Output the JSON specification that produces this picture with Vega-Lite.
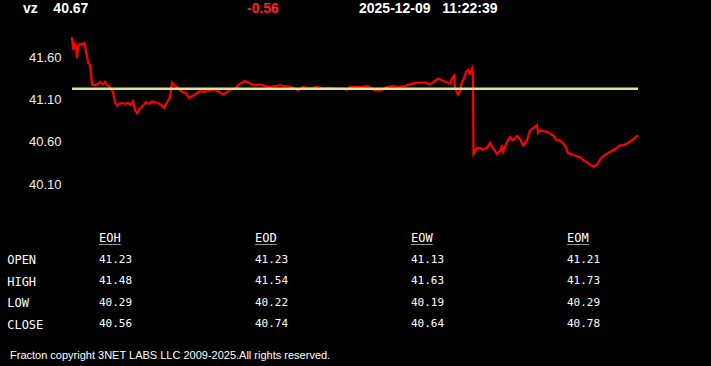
{
  "$schema": "https://vega.github.io/schema/vega-lite/v6.json",
  "background": "black",
  "padding": {"left": 0, "top": 0, "right": 0, "bottom": 14},
  "spacing": 0,
  "config": {"view": {"stroke": null}, "font": "Liberation Sans"},
  "vconcat": [
    {
      "width": 382,
      "height": 18,
      "data": {"values": [
        {"slot": "sym", "label": "vz\u00a0\u00a0\u00a0\u00a040.67", "kind": "last"},
        {"slot": "chg", "label": "-0.56", "kind": "change"},
        {"slot": "stamp", "label": "2025-12-09\u00a0\u00a0\u00a011:22:39", "kind": "time"}
      ]},
      "mark": {"type": "text", "align": "left", "baseline": "middle", "font": "Liberation Sans", "fontSize": 14, "fontWeight": "bold"},
      "encoding": {
        "x": {"field": "slot", "type": "nominal", "scale": {"type": "point", "domain": ["sym", "gap", "chg", "stamp"], "padding": 0.2054}, "axis": null},
        "text": {"field": "label"},
        "color": {"field": "kind", "type": "nominal", "scale": {"domain": ["last", "change", "time"], "range": ["#ffffff", "#ff2020", "#ffffff"]}, "legend": null}
      }
    },
    {
      "width": 711,
      "height": 207,
      "data": {"values": [
        {"t": 0, "price": 41.84}, {"t": 1, "price": 41.69}, {"t": 2, "price": 41.78}, {"t": 3, "price": 41.72},
        {"t": 4, "price": 41.75}, {"t": 5, "price": 41.59}, {"t": 6, "price": 41.73}, {"t": 8, "price": 41.76},
        {"t": 10, "price": 41.75}, {"t": 12, "price": 41.77}, {"t": 13, "price": 41.75}, {"t": 14, "price": 41.66},
        {"t": 15, "price": 41.62}, {"t": 16, "price": 41.54}, {"t": 18, "price": 41.51}, {"t": 19, "price": 41.41},
        {"t": 20, "price": 41.28}, {"t": 22, "price": 41.27}, {"t": 25, "price": 41.28}, {"t": 28, "price": 41.31},
        {"t": 31, "price": 41.28}, {"t": 33, "price": 41.31}, {"t": 35, "price": 41.27}, {"t": 37, "price": 41.26},
        {"t": 39, "price": 41.23}, {"t": 41, "price": 41.19}, {"t": 43, "price": 41.07}, {"t": 45, "price": 41.03},
        {"t": 47, "price": 41.05}, {"t": 50, "price": 41.06}, {"t": 53, "price": 41.05}, {"t": 56, "price": 41.06},
        {"t": 59, "price": 41.04}, {"t": 61, "price": 41.08}, {"t": 63, "price": 40.98}, {"t": 65, "price": 40.94},
        {"t": 68, "price": 41.0}, {"t": 71, "price": 41.03}, {"t": 74, "price": 41.07}, {"t": 77, "price": 41.05},
        {"t": 80, "price": 41.08}, {"t": 83, "price": 41.07}, {"t": 86, "price": 41.06}, {"t": 89, "price": 41.04},
        {"t": 92, "price": 41.0}, {"t": 95, "price": 41.07}, {"t": 98, "price": 41.13}, {"t": 100, "price": 41.3},
        {"t": 102, "price": 41.27}, {"t": 105, "price": 41.25}, {"t": 108, "price": 41.21}, {"t": 111, "price": 41.19},
        {"t": 114, "price": 41.18}, {"t": 117, "price": 41.12}, {"t": 120, "price": 41.14}, {"t": 123, "price": 41.16},
        {"t": 126, "price": 41.19}, {"t": 129, "price": 41.2}, {"t": 132, "price": 41.19}, {"t": 135, "price": 41.21},
        {"t": 138, "price": 41.21}, {"t": 141, "price": 41.22}, {"t": 145, "price": 41.21}, {"t": 148, "price": 41.18},
        {"t": 151, "price": 41.16}, {"t": 155, "price": 41.19}, {"t": 158, "price": 41.22}, {"t": 163, "price": 41.23},
        {"t": 168, "price": 41.29}, {"t": 173, "price": 41.32}, {"t": 178, "price": 41.29}, {"t": 183, "price": 41.27},
        {"t": 188, "price": 41.28}, {"t": 193, "price": 41.26}, {"t": 198, "price": 41.25}, {"t": 203, "price": 41.26},
        {"t": 208, "price": 41.27}, {"t": 213, "price": 41.26}, {"t": 218, "price": 41.25}, {"t": 223, "price": 41.23},
        {"t": 226, "price": 41.21}, {"t": 231, "price": 41.25}, {"t": 238, "price": 41.23}, {"t": 245, "price": 41.25},
        {"t": 251, "price": 41.23}, {"t": 258, "price": 41.24}, {"t": 265, "price": 41.23}, {"t": 271, "price": 41.23},
        {"t": 275, "price": 41.22}, {"t": 278, "price": 41.25}, {"t": 285, "price": 41.25}, {"t": 290, "price": 41.25},
        {"t": 296, "price": 41.26}, {"t": 301, "price": 41.22}, {"t": 306, "price": 41.21}, {"t": 311, "price": 41.22},
        {"t": 315, "price": 41.25}, {"t": 320, "price": 41.26}, {"t": 326, "price": 41.25}, {"t": 333, "price": 41.26},
        {"t": 340, "price": 41.29}, {"t": 346, "price": 41.3}, {"t": 353, "price": 41.3}, {"t": 358, "price": 41.28},
        {"t": 363, "price": 41.32}, {"t": 366, "price": 41.35}, {"t": 370, "price": 41.33}, {"t": 373, "price": 41.31},
        {"t": 378, "price": 41.29}, {"t": 380, "price": 41.35}, {"t": 382, "price": 41.38}, {"t": 383, "price": 41.23},
        {"t": 385, "price": 41.19}, {"t": 386, "price": 41.16}, {"t": 388, "price": 41.2}, {"t": 389, "price": 41.27},
        {"t": 390, "price": 41.31}, {"t": 392, "price": 41.35}, {"t": 394, "price": 41.43}, {"t": 396, "price": 41.45},
        {"t": 398, "price": 41.41}, {"t": 400, "price": 41.47}, {"t": 401, "price": 41.39}, {"t": 401.5, "price": 40.46},
        {"t": 403, "price": 40.49}, {"t": 405, "price": 40.53}, {"t": 408, "price": 40.53}, {"t": 411, "price": 40.51},
        {"t": 415, "price": 40.53}, {"t": 418, "price": 40.59}, {"t": 421, "price": 40.53}, {"t": 425, "price": 40.46},
        {"t": 428, "price": 40.49}, {"t": 430, "price": 40.56}, {"t": 431, "price": 40.49}, {"t": 435, "price": 40.6},
        {"t": 438, "price": 40.66}, {"t": 441, "price": 40.62}, {"t": 445, "price": 40.67}, {"t": 448, "price": 40.64},
        {"t": 451, "price": 40.56}, {"t": 455, "price": 40.62}, {"t": 458, "price": 40.74}, {"t": 461, "price": 40.76},
        {"t": 465, "price": 40.8}, {"t": 466, "price": 40.71}, {"t": 468, "price": 40.74}, {"t": 475, "price": 40.72},
        {"t": 481, "price": 40.68}, {"t": 485, "price": 40.62}, {"t": 488, "price": 40.62}, {"t": 493, "price": 40.56},
        {"t": 496, "price": 40.47}, {"t": 501, "price": 40.45}, {"t": 508, "price": 40.42}, {"t": 511, "price": 40.39},
        {"t": 516, "price": 40.35}, {"t": 521, "price": 40.31}, {"t": 525, "price": 40.33}, {"t": 528, "price": 40.39},
        {"t": 531, "price": 40.43}, {"t": 536, "price": 40.47}, {"t": 541, "price": 40.5}, {"t": 548, "price": 40.56},
        {"t": 551, "price": 40.56}, {"t": 555, "price": 40.58}, {"t": 561, "price": 40.63}, {"t": 566, "price": 40.68}
      ]},
      "layer": [
        {
          "mark": {"type": "line", "color": "#ff0000", "strokeWidth": 2.2},
          "encoding": {
            "x": {"field": "t", "type": "quantitative", "scale": {"domain": [-72, 639], "nice": false, "zero": false}, "axis": null},
            "y": {
              "field": "price", "type": "quantitative",
              "scale": {"domain": [39.62, 42.064], "nice": false, "zero": false},
              "axis": {"orient": "left", "offset": -61, "values": [40.1, 40.6, 41.1, 41.6], "format": ".2f", "domain": false, "ticks": false, "tickSize": 0, "labelPadding": 0, "grid": false, "labelColor": "#f0f0f0", "labelFont": "Liberation Sans", "labelFontSize": 13, "title": null}
            }
          }
        },
        {
          "mark": {"type": "rule", "color": "#dfe68c", "strokeWidth": 2.5},
          "encoding": {
            "x": {"aggregate": "min", "field": "t", "type": "quantitative"},
            "x2": {"aggregate": "max", "field": "t"},
            "y": {"datum": 41.23, "type": "quantitative"}
          }
        }
      ]
    },
    {
      "width": 666,
      "height": 112.6,
      "title": {"text": "Fracton copyright 3NET LABS LLC 2009-2025.All rights reserved.", "orient": "bottom", "anchor": "start", "frame": "group", "color": "#ffffff", "font": "Liberation Sans", "fontSize": 11, "fontWeight": "normal", "offset": 12, "dx": 10},
      "layer": [
        {
          "data": {"values": [
            {"period": "EOH", "row": "OPEN", "value": 41.23}, {"period": "EOH", "row": "HIGH", "value": 41.48},
            {"period": "EOH", "row": "LOW", "value": 40.29}, {"period": "EOH", "row": "CLOSE", "value": 40.56},
            {"period": "EOD", "row": "OPEN", "value": 41.23}, {"period": "EOD", "row": "HIGH", "value": 41.54},
            {"period": "EOD", "row": "LOW", "value": 40.22}, {"period": "EOD", "row": "CLOSE", "value": 40.74},
            {"period": "EOW", "row": "OPEN", "value": 41.13}, {"period": "EOW", "row": "HIGH", "value": 41.63},
            {"period": "EOW", "row": "LOW", "value": 40.19}, {"period": "EOW", "row": "CLOSE", "value": 40.64},
            {"period": "EOM", "row": "OPEN", "value": 41.21}, {"period": "EOM", "row": "HIGH", "value": 41.73},
            {"period": "EOM", "row": "LOW", "value": 40.29}, {"period": "EOM", "row": "CLOSE", "value": 40.78}
          ]},
          "mark": {"type": "text", "align": "left", "baseline": "middle", "font": "DejaVu Sans Mono", "fontSize": 11, "color": "#ffffff"},
          "encoding": {
            "x": {"field": "period", "type": "nominal", "scale": {"type": "point", "domain": ["EOH", "EOD", "EOW", "EOM"], "padding": 0.6346}, "axis": null},
            "y": {
              "field": "row", "type": "nominal",
              "scale": {"type": "point", "domain": ["hdr", "OPEN", "HIGH", "LOW", "CLOSE"], "padding": 0.619},
              "axis": {"orient": "left", "offset": -6.7, "values": ["OPEN", "HIGH", "LOW", "CLOSE"], "labelAlign": "left", "labelBaseline": "middle", "domain": false, "ticks": false, "tickSize": 0, "labelPadding": 0, "grid": false, "labelColor": "#ffffff", "labelFont": "DejaVu Sans Mono", "labelFontSize": 12, "title": null}
            },
            "text": {"field": "value", "type": "quantitative", "format": ".2f"}
          }
        },
        {
          "data": {"values": [{"period": "EOH"}, {"period": "EOD"}, {"period": "EOW"}, {"period": "EOM"}]},
          "mark": {"type": "text", "align": "left", "baseline": "middle", "font": "DejaVu Sans Mono", "fontSize": 12, "color": "#ffffff"},
          "encoding": {
            "x": {"field": "period", "type": "nominal"},
            "y": {"datum": "hdr", "type": "nominal"},
            "text": {"field": "period"}
          }
        },
        {
          "data": {"values": [{"period": "EOH"}, {"period": "EOD"}, {"period": "EOW"}, {"period": "EOM"}]},
          "mark": {"type": "text", "align": "left", "baseline": "middle", "font": "DejaVu Sans Mono", "fontSize": 12, "color": "#ffffff"},
          "encoding": {
            "x": {"field": "period", "type": "nominal"},
            "y": {"datum": "hdr", "type": "nominal"},
            "text": {"value": "___"}
          }
        }
      ]
    }
  ]
}
